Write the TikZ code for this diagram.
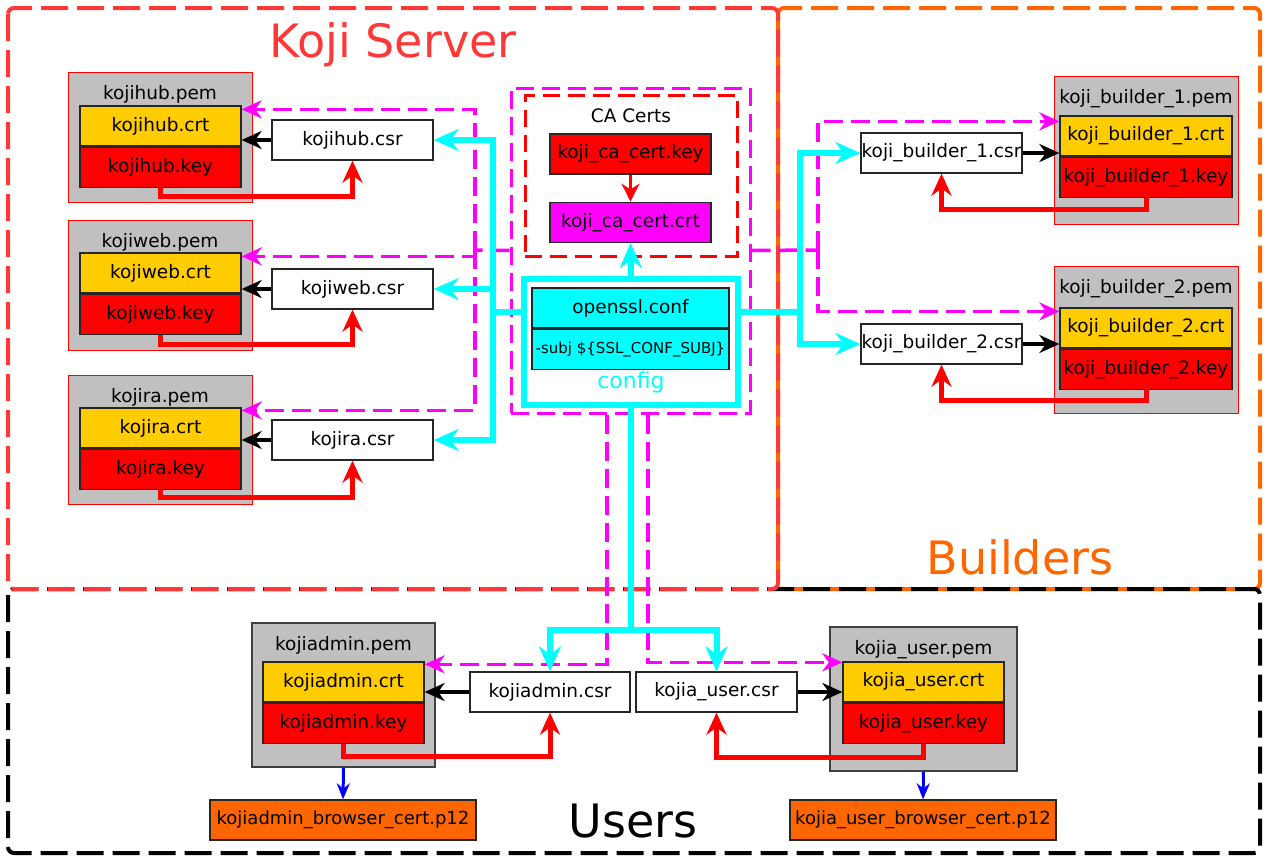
\documentclass[tikz,border=0pt]{standalone}
\usepackage{fontspec}
\setmainfont{DejaVu Sans}
\usepackage{tikz}
\usetikzlibrary{positioning, arrows.meta}
\definecolor{serverred}{RGB}{255,56,56}
\definecolor{builderorange}{RGB}{255,102,0}
\definecolor{crtyellow}{RGB}{255,204,0}
\definecolor{pemgray}{RGB}{192,192,192}
\definecolor{confcyan}{RGB}{0,255,255}
\definecolor{pkimagenta}{RGB}{255,0,255}
\tikzset{
	filefont/.style={font=\fontsize{18.5}{20}\selectfont},
	filebox/.style={draw=black!85, line width=1.3pt, minimum width=161pt, minimum height=40pt, inner sep=0pt, filefont},
	csrbox/.style={filebox, fill=white},
	crtbox/.style={filebox, fill=crtyellow},
	keybox/.style={filebox, fill=red},
	p12box/.style={filebox, fill=builderorange, minimum width=266pt, font=\fontsize{18}{20}\selectfont},
	pembox/.style={draw=red, line width=0.9pt, fill=pemgray, minimum width=184pt, inner sep=0pt, label={[anchor=north, inner sep=0pt, yshift=-14pt, filefont]north:#1}},
	userpembox/.style={pembox={#1}, draw=black!75, line width=1.3pt},
	region/.style={line width=4pt, dash pattern=on 27pt off 9pt, rounded corners=6pt},
	regiontitle/.style={font=\fontsize{46}{50}\selectfont},
	pkibox/.style={draw=pkimagenta, line width=3pt, dash pattern=on 18pt off 8pt},
	cabox/.style={draw=red, line width=3pt, dash pattern=on 17pt off 8pt},
	configbox/.style={draw=confcyan, line width=6pt, minimum width=214pt, minimum height=126pt},
	cyanwire/.style={draw=confcyan, line width=6pt, -{Stealth[length=25pt, width=22pt]}},
	magwire/.style={draw=pkimagenta, line width=3.5pt, dash pattern=on 19pt off 8pt, -{Stealth[length=20pt, width=18pt]}},
	keywire/.style={draw=red, line width=5pt, -{Stealth[length=22pt, width=20pt]}},
	signwire/.style={draw=black, line width=4pt, -{Stealth[length=20pt, width=18pt]}},
	cawire/.style={draw=red, line width=3pt, -{Stealth[length=18pt, width=18pt]}},
	p12wire/.style={draw=blue, line width=3pt, -{Stealth[length=16pt, width=13pt]}}
}
\begin{document}
\begin{tikzpicture}[x=1pt, y=-1pt]
	\useasboundingbox (0,0) rectangle (1269,862);

	\draw[region, draw=builderorange] (778,8) rectangle (1260,589);
	\draw[region, draw=black] (8,589) rectangle (1260,853);
	\draw[region, draw=serverred] (8,8) rectangle (778,589);

	\node[regiontitle, text=serverred] (servertitle) at (393,45) {Koji Server};
	\node[regiontitle, text=builderorange] (buildertitle) at (1020,557) {Builders};
	\node[regiontitle] (usertitle) at (633,821) {Users};

	\node[pkibox, minimum width=239pt, minimum height=325pt] (pki) at (630.5,250.5) {};
	\node[cabox, minimum width=212pt, minimum height=161pt] (cacerts) at (631,175.5) {};
	\node[filefont] (catitle) at (631,116) {CA Certs};
	\node[keybox] (cakey) at (630.5,154) {koji\_ca\_cert.key};
	\node[filebox, fill=pkimagenta, below=27pt of cakey] (cacrt) {koji\_ca\_cert.crt};

	\node[configbox] (config) at (631,342) {};
	\node[filebox, fill=confcyan, minimum width=197pt] (ssl) at (630.5,308) {openssl.conf};
	\node[filebox, fill=confcyan, minimum width=197pt, below=0pt of ssl, font=\fontsize{15}{18}\selectfont] (subj) {-subj \$\{SSL\_CONF\_SUBJ\}};
	\node[text=confcyan, font=\fontsize{22}{24}\selectfont] (configlabel) at (631,382) {config};

	\node[pembox=kojihub.pem, minimum height=130pt] (hubpem) at (160,137) {};
	\node[crtbox] (hubcrt) at (160.5,126) {kojihub.crt};
	\node[keybox, below=0pt of hubcrt] (hubkey) {kojihub.key};
	\node[csrbox] (hubcsr) at (352.5,140) {kojihub.csr};

	\node[pembox=kojiweb.pem, minimum height=130pt] (webpem) at (160,285) {};
	\node[crtbox] (webcrt) at (160.5,273) {kojiweb.crt};
	\node[keybox, below=0pt of webcrt] (webkey) {kojiweb.key};
	\node[csrbox] (webcsr) at (352.5,289) {kojiweb.csr};

	\node[pembox=kojira.pem, minimum height=129pt] (rapem) at (160,439.5) {};
	\node[crtbox] (racrt) at (160.5,428) {kojira.crt};
	\node[keybox, below=0pt of racrt] (rakey) {kojira.key};
	\node[csrbox] (racsr) at (352.5,440) {kojira.csr};

	\node[pembox=koji\_builder\_1.pem, minimum height=148pt] (bonepem) at (1146,150) {};
	\node[crtbox, minimum width=172pt] (bonecrt) at (1146,136) {koji\_builder\_1.crt};
	\node[keybox, minimum width=172pt, below=0pt of bonecrt] (bonekey) {koji\_builder\_1.key};
	\node[csrbox] (bonecsr) at (941.5,153) {koji\_builder\_1.csr};

	\node[pembox=koji\_builder\_2.pem, minimum height=147pt] (btwopem) at (1146,339.5) {};
	\node[crtbox, minimum width=172pt] (btwocrt) at (1146,328) {koji\_builder\_2.crt};
	\node[keybox, minimum width=172pt, below=0pt of btwocrt] (btwokey) {koji\_builder\_2.key};
	\node[csrbox] (btwocsr) at (941.5,344) {koji\_builder\_2.csr};

	\node[userpembox=kojiadmin.pem, minimum width=183pt, minimum height=144pt] (adminpem) at (343.5,695) {};
	\node[crtbox] (admincrt) at (343.5,682) {kojiadmin.crt};
	\node[keybox, below=0pt of admincrt] (adminkey) {kojiadmin.key};
	\node[csrbox, minimum width=160pt] (admincsr) at (550,692) {kojiadmin.csr};
	\node[p12box] (adminpk) at (343,820) {kojiadmin\_browser\_cert.p12};

	\node[userpembox=kojia\_user.pem, minimum width=187pt, minimum height=144pt] (userpem) at (923.5,699) {};
	\node[crtbox] (usercrt) at (923.5,682) {kojia\_user.crt};
	\node[keybox, below=0pt of usercrt] (userkey) {kojia\_user.key};
	\node[csrbox] (usercsr) at (716.5,692) {kojia\_user.csr};
	\node[p12box] (userpk) at (923,820) {kojia\_user\_browser\_cert.p12};

	\coordinate (cyanleft) at (493,312);
	\coordinate (cyanright) at (800,312);
	\coordinate (cyandown) at (631,630);
	\coordinate (magleft) at (475,250);
	\coordinate (magright) at (818,250);

	\draw[magwire, -] (pki.west) -- (magleft);
	\draw[magwire] (magleft) |- ([yshift=-4pt]hubcrt.north east);
	\draw[magwire] (magleft) |- ([yshift=-4pt]webcrt.north east);
	\draw[magwire] (magleft) |- ([yshift=-3pt]racrt.north east);
	\draw[magwire, -] (pki.east) -- (magright);
	\draw[magwire] (magright) |- ([yshift=-6pt]bonecrt.north west);
	\draw[magwire] (magright) |- ([yshift=-4pt]btwocrt.north west);
	\draw[magwire] ([xshift=-23.5pt]pki.south) |- ([yshift=-3pt]admincrt.north east);
	\draw[magwire] ([xshift=17.5pt]pki.south) |- ([yshift=-1pt]usercrt.north west);

	\draw[cyanwire] (config.north) -- (cacrt.south);
	\draw[cyanwire, -] (config.west |- cyanleft) -- (cyanleft);
	\draw[cyanwire] (cyanleft) |- (hubcsr.east);
	\draw[cyanwire] (cyanleft) |- (webcsr.east);
	\draw[cyanwire] (cyanleft) |- (racsr.east);
	\draw[cyanwire, -] (config.east |- cyanright) -- (cyanright);
	\draw[cyanwire] (cyanright) |- (bonecsr.west);
	\draw[cyanwire] (cyanright) |- (btwocsr.west);
	\draw[cyanwire, -] (config.south) -- (cyandown);
	\draw[cyanwire] (cyandown) -| (admincsr.north);
	\draw[cyanwire] (cyandown) -| (usercsr.north);

	\draw[cawire] (cakey.south) -- (cacrt.north);

	\draw[signwire] (hubcsr.west) -- (hubcsr.west -| hubcrt.east);
	\draw[signwire] (webcsr.west) -- (webcsr.west -| webcrt.east);
	\draw[signwire] (racsr.west) -- (racsr.west -| racrt.east);
	\draw[signwire] (bonecsr.east) -- (bonecsr.east -| bonecrt.west);
	\draw[signwire] (btwocsr.east) -- (btwocsr.east -| btwocrt.west);
	\draw[signwire] (admincsr.west) -- (admincsr.west -| admincrt.east);
	\draw[signwire] (usercsr.east) -- (usercsr.east -| usercrt.west);

	\draw[keywire] (hubkey.south) -- ++(0,9) -| (hubcsr.south);
	\draw[keywire] (webkey.south) -- ++(0,10) -| (webcsr.south);
	\draw[keywire] (rakey.south) -- ++(0,8) -| (racsr.south);
	\draw[keywire] (bonekey.south) -- ++(0,12) -| (bonecsr.south);
	\draw[keywire] (btwokey.south) -- ++(0,11) -| (btwocsr.south);
	\draw[keywire] (adminkey.south) -- ++(0,13) -| (admincsr.south);
	\draw[keywire] (userkey.south) -- ++(0,14) -| (usercsr.south);

	\draw[p12wire] (adminpem.south) -- (adminpk.north);
	\draw[p12wire] (userpem.south) -- (userpk.north);
\end{tikzpicture}
\end{document}
